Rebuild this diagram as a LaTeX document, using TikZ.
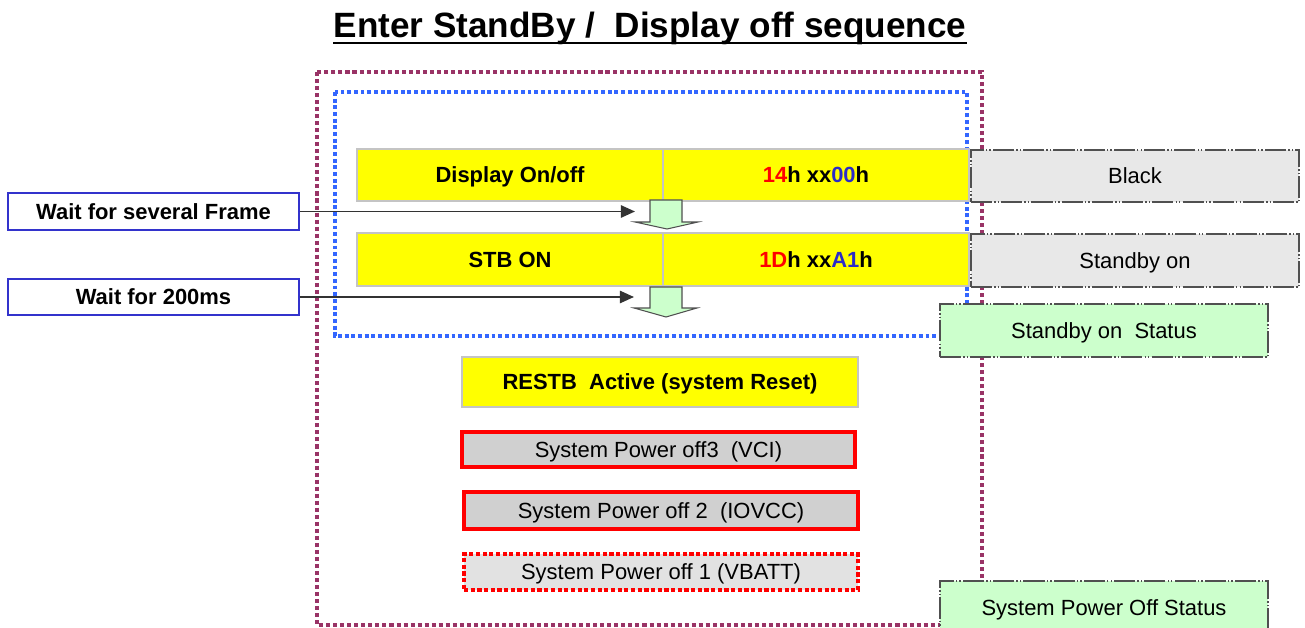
\documentclass[tikz,border=0pt]{standalone}
\usepackage{fontspec}
\setmainfont{Liberation Sans}
\usetikzlibrary{arrows.meta}
\definecolor{framemaroon}{HTML}{993366}
\definecolor{frameblue}{HTML}{3366FF}
\definecolor{boxyellow}{HTML}{FFFF00}
\definecolor{yborder}{HTML}{C4C4C4}
\definecolor{statgray}{HTML}{E8E8E8}
\definecolor{statgreen}{HTML}{CCFFCC}
\definecolor{statborder}{HTML}{505050}
\definecolor{pwrgray}{HTML}{D0D0D0}
\definecolor{pwrlight}{HTML}{E2E2E2}
\definecolor{waitblue}{HTML}{3333CC}
\definecolor{codeblue}{HTML}{2B2BC8}
\definecolor{codered}{HTML}{FF0000}
\tikzset{
  txt/.style={font=\fontsize{12.5}{15}\selectfont\bfseries, inner sep=0pt, align=center,
     text height=9pt, text depth=0pt},
  ybox/.style={txt, draw=yborder, line width=0.8pt, fill=boxyellow},
  statbox/.style={txt, draw=statborder, line width=0.7pt,
     dash pattern=on 12pt off 1.2pt on 0.8pt off 1.2pt on 0.8pt off 1.2pt},
  graybox/.style={statbox, fill=statgray},
  greenbox/.style={statbox, fill=statgreen},
  pwrbox/.style={txt, draw=red, line width=2.3pt, fill=pwrgray},
  pwrdot/.style={txt, draw=red, line width=2.3pt, fill=pwrlight, dash pattern=on 2.4pt off 1.4pt},
  waitbox/.style={txt, draw=waitblue, line width=0.8pt, fill=white},
  garrow/.style={fill=statgreen, draw=statborder, line width=0.6pt, line join=miter},
  pointer/.style={draw=black!80, line width=0.9pt, -{Triangle[length=8pt,width=7pt]}},
  mframe/.style={draw=framemaroon, line width=2.3pt, dash pattern=on 2.3pt off 1.7pt},
  bframe/.style={draw=frameblue, line width=2.1pt, dash pattern=on 2.2pt off 1.6pt}
}
\begin{document}
\begin{tikzpicture}[x=0.02cm,y=-0.02cm]
\useasboundingbox (0,0) rectangle (1305,628);
\clip (0,0) rectangle (1305,628);

% title
\node[font=\fontsize{20}{24}\selectfont\bfseries, inner sep=0pt, anchor=base] (title) at (650,38) {Enter StandBy /\ \ Display off sequence};
\draw[line width=1.4pt] ([yshift=-2.8pt]title.base west) -- ([yshift=-2.8pt]title.base east);

% frames
\draw[mframe] (317,72) rectangle (982,625);
\draw[bframe] (335,92) rectangle (967,336);

% row 1
\node[ybox, minimum width=6.12cm, minimum height=1.04cm] (dl) at (510,175) {Display On/off};
\node[ybox, minimum width=6.12cm, minimum height=1.04cm] (dr) at (816,175) {{\color{codered}14}h xx{\color{codeblue}00}h};
\node[graybox, minimum width=6.56cm, minimum height=1.04cm] (black) at (1135,176) {\mdseries Black};

% row 2
\node[ybox, minimum width=6.12cm, minimum height=1.06cm] (sl) at (510,259.5) {STB ON};
\node[ybox, minimum width=6.12cm, minimum height=1.06cm] (sr) at (816,259.5) {{\color{codered}1D}h xx{\color{codeblue}A1}h};
\node[graybox, minimum width=6.56cm, minimum height=1.06cm] (stbon) at (1135,260.5) {\mdseries Standby on};

% green block arrows
\draw[garrow] (650,200) -- (682,200) -- (682,222) -- (698,222) -- (667,229) -- (635,222) -- (650,222) -- cycle;
\draw[garrow] (650,287) -- (682,287) -- (682,308) -- (697,308) -- (666,317) -- (634,308) -- (650,308) -- cycle;
\coordinate (t1) at (635,212);
\coordinate (t2) at (634,298);

% wait boxes
\node[waitbox, minimum width=5.82cm, minimum height=0.74cm] (w1) at (153.5,211.5) {Wait for several Frame};
\node[waitbox, minimum width=5.82cm, minimum height=0.72cm] (w2) at (153.5,297) {Wait for 200ms};
\draw[pointer] (w1.east) -- (w1.east -| t1);
\draw[pointer] (w2.east) -- (w2.east -| t2);

% status
\node[greenbox, minimum width=6.56cm, minimum height=1.06cm] (stbstat) at (1104,330.5) {\mdseries Standby on\ \ Status};
\node[greenbox, minimum width=6.56cm, minimum height=1.06cm] (offstat) at (1104,607.5) {\mdseries System Power Off Status};

% lower sequence
\node[ybox, minimum width=7.92cm, minimum height=1.0cm] (restb) at (660,382) {RESTB\ \ Active (system Reset)};
\node[pwrbox, minimum width=7.86cm, minimum height=0.70cm] (p3) at (658.5,449.5) {\mdseries System Power off3\ \ (VCI)};
\node[pwrbox, minimum width=7.88cm, minimum height=0.74cm] (p2) at (661,510.5) {\mdseries System Power off 2\ \ (IOVCC)};
\node[pwrdot, minimum width=7.88cm, minimum height=0.72cm] (p1) at (661,572) {\mdseries System Power off 1 (VBATT)};
\end{tikzpicture}
\end{document}
